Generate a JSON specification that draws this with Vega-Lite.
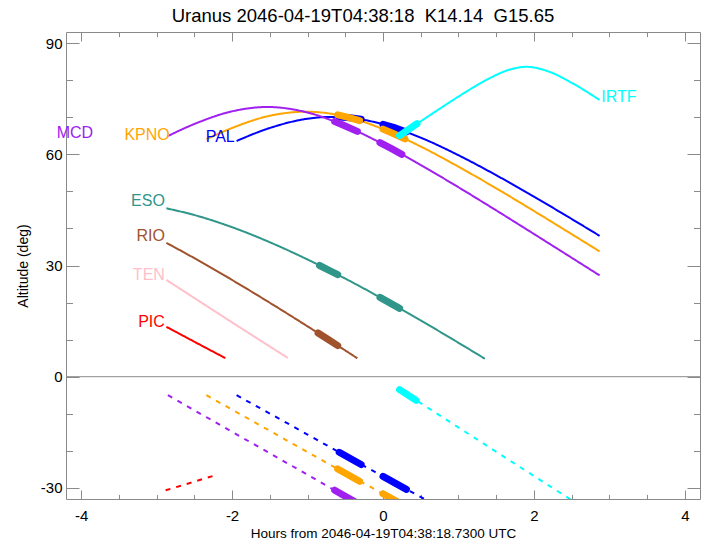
{
  "$schema": "https://vega.github.io/schema/vega-lite/v6.json",
  "width": 634,
  "height": 467,
  "autosize": {"type": "none"},
  "padding": {"left": 66, "top": 32, "right": 8, "bottom": 45},
  "background": "white",
  "title": {"text": "Uranus 2046-04-19T04:38:18\u00a0\u00a0K14.14\u00a0\u00a0G15.65", "fontSize": 18.5, "font": "Liberation Sans", "fontWeight": "normal", "color": "black", "anchor": "middle", "offset": 6, "dx": -20},
  "config": {
    "view": {"stroke": "#8a8a8a", "strokeWidth": 1},
    "axis": {"domain": false, "grid": false, "labelFont": "Liberation Sans", "labelFontSize": 15, "labelColor": "black", "tickColor": "#8a8a8a", "tickWidth": 1, "titleFont": "Liberation Sans", "titleFontSize": 14, "titleFontWeight": "normal", "titleColor": "black"}
  },
  "datasets": {
    "curves": [
      {"obs": "PAL", "kind": "alt", "x": -1.94, "y": 63.6},
      {"obs": "PAL", "kind": "alt", "x": -1.5, "y": 67.1},
      {"obs": "PAL", "kind": "alt", "x": -1.0, "y": 69.6},
      {"obs": "PAL", "kind": "alt", "x": -0.67, "y": 70.1},
      {"obs": "PAL", "kind": "alt", "x": -0.3, "y": 69.47},
      {"obs": "PAL", "kind": "alt", "x": 0.0, "y": 68.1},
      {"obs": "PAL", "kind": "alt", "x": 0.5, "y": 64.49},
      {"obs": "PAL", "kind": "alt", "x": 1.0, "y": 59.75},
      {"obs": "PAL", "kind": "alt", "x": 1.5, "y": 54.36},
      {"obs": "PAL", "kind": "alt", "x": 2.0, "y": 48.57},
      {"obs": "PAL", "kind": "alt", "x": 2.5, "y": 42.55},
      {"obs": "PAL", "kind": "alt", "x": 2.87, "y": 38.0},
      {"obs": "KPNO", "kind": "alt", "x": -2.34, "y": 64.08},
      {"obs": "KPNO", "kind": "alt", "x": -2.0, "y": 67.1},
      {"obs": "KPNO", "kind": "alt", "x": -1.5, "y": 70.4},
      {"obs": "KPNO", "kind": "alt", "x": -1.02, "y": 71.5},
      {"obs": "KPNO", "kind": "alt", "x": -0.5, "y": 70.2},
      {"obs": "KPNO", "kind": "alt", "x": 0.0, "y": 66.8},
      {"obs": "KPNO", "kind": "alt", "x": 0.5, "y": 62.1},
      {"obs": "KPNO", "kind": "alt", "x": 1.0, "y": 56.66},
      {"obs": "KPNO", "kind": "alt", "x": 1.5, "y": 50.82},
      {"obs": "KPNO", "kind": "alt", "x": 2.0, "y": 44.71},
      {"obs": "KPNO", "kind": "alt", "x": 2.5, "y": 38.46},
      {"obs": "KPNO", "kind": "alt", "x": 2.87, "y": 33.8},
      {"obs": "MCD", "kind": "alt", "x": -2.85, "y": 64.93},
      {"obs": "MCD", "kind": "alt", "x": -2.5, "y": 68.17},
      {"obs": "MCD", "kind": "alt", "x": -2.0, "y": 71.59},
      {"obs": "MCD", "kind": "alt", "x": -1.53, "y": 72.77},
      {"obs": "MCD", "kind": "alt", "x": -1.0, "y": 71.28},
      {"obs": "MCD", "kind": "alt", "x": -0.5, "y": 67.65},
      {"obs": "MCD", "kind": "alt", "x": 0.0, "y": 62.74},
      {"obs": "MCD", "kind": "alt", "x": 0.5, "y": 57.1},
      {"obs": "MCD", "kind": "alt", "x": 1.0, "y": 51.11},
      {"obs": "MCD", "kind": "alt", "x": 1.5, "y": 44.87},
      {"obs": "MCD", "kind": "alt", "x": 2.0, "y": 38.5},
      {"obs": "MCD", "kind": "alt", "x": 2.5, "y": 32.09},
      {"obs": "MCD", "kind": "alt", "x": 2.87, "y": 27.32},
      {"obs": "ESO", "kind": "alt", "x": -2.87, "y": 45.43},
      {"obs": "ESO", "kind": "alt", "x": -2.5, "y": 43.62},
      {"obs": "ESO", "kind": "alt", "x": -2.0, "y": 40.34},
      {"obs": "ESO", "kind": "alt", "x": -1.5, "y": 36.28},
      {"obs": "ESO", "kind": "alt", "x": -1.0, "y": 31.62},
      {"obs": "ESO", "kind": "alt", "x": -0.5, "y": 26.47},
      {"obs": "ESO", "kind": "alt", "x": 0.0, "y": 20.96},
      {"obs": "ESO", "kind": "alt", "x": 0.5, "y": 15.17},
      {"obs": "ESO", "kind": "alt", "x": 1.0, "y": 9.15},
      {"obs": "ESO", "kind": "alt", "x": 1.35, "y": 4.84},
      {"obs": "RIO", "kind": "alt", "x": -2.87, "y": 36.11},
      {"obs": "RIO", "kind": "alt", "x": -2.5, "y": 31.99},
      {"obs": "RIO", "kind": "alt", "x": -2.0, "y": 26.1},
      {"obs": "RIO", "kind": "alt", "x": -1.5, "y": 19.95},
      {"obs": "RIO", "kind": "alt", "x": -1.0, "y": 13.59},
      {"obs": "RIO", "kind": "alt", "x": -0.5, "y": 7.08},
      {"obs": "RIO", "kind": "alt", "x": -0.34, "y": 4.97},
      {"obs": "TEN", "kind": "alt", "x": -2.87, "y": 26.11},
      {"obs": "TEN", "kind": "alt", "x": -2.5, "y": 21.23},
      {"obs": "TEN", "kind": "alt", "x": -2.0, "y": 14.66},
      {"obs": "TEN", "kind": "alt", "x": -1.5, "y": 8.15},
      {"obs": "TEN", "kind": "alt", "x": -1.26, "y": 5.04},
      {"obs": "PIC", "kind": "alt", "x": -2.87, "y": 13.46},
      {"obs": "PIC", "kind": "alt", "x": -2.5, "y": 9.44},
      {"obs": "PIC", "kind": "alt", "x": -2.3, "y": 7.28},
      {"obs": "PIC", "kind": "alt", "x": -2.09, "y": 5.03},
      {"obs": "IRTF", "kind": "alt", "x": 0.22, "y": 65.05},
      {"obs": "IRTF", "kind": "alt", "x": 0.5, "y": 68.9},
      {"obs": "IRTF", "kind": "alt", "x": 0.8, "y": 72.95},
      {"obs": "IRTF", "kind": "alt", "x": 1.1, "y": 76.85},
      {"obs": "IRTF", "kind": "alt", "x": 1.4, "y": 80.4},
      {"obs": "IRTF", "kind": "alt", "x": 1.7, "y": 82.98},
      {"obs": "IRTF", "kind": "alt", "x": 1.9, "y": 83.6},
      {"obs": "IRTF", "kind": "alt", "x": 2.2, "y": 82.3},
      {"obs": "IRTF", "kind": "alt", "x": 2.5, "y": 79.28},
      {"obs": "IRTF", "kind": "alt", "x": 2.87, "y": 74.66},
      {"obs": "PAL", "kind": "sun", "x": -1.94, "y": -5.0},
      {"obs": "PAL", "kind": "sun", "x": -1.0, "y": -15.6},
      {"obs": "PAL", "kind": "sun", "x": -0.58, "y": -20.4},
      {"obs": "PAL", "kind": "sun", "x": 0.0, "y": -26.9},
      {"obs": "PAL", "kind": "sun", "x": 0.62, "y": -33.8},
      {"obs": "PAL", "kind": "sun", "x": 0.8, "y": -35.8},
      {"obs": "KPNO", "kind": "sun", "x": -2.34, "y": -5.0},
      {"obs": "KPNO", "kind": "sun", "x": -1.5, "y": -14.6},
      {"obs": "KPNO", "kind": "sun", "x": -0.6, "y": -24.9},
      {"obs": "KPNO", "kind": "sun", "x": 0.0, "y": -31.6},
      {"obs": "KPNO", "kind": "sun", "x": 0.4, "y": -36.1},
      {"obs": "MCD", "kind": "sun", "x": -2.85, "y": -5.0},
      {"obs": "MCD", "kind": "sun", "x": -2.0, "y": -14.86},
      {"obs": "MCD", "kind": "sun", "x": -1.0, "y": -26.46},
      {"obs": "MCD", "kind": "sun", "x": -0.64, "y": -30.64},
      {"obs": "MCD", "kind": "sun", "x": -0.2, "y": -35.74},
      {"obs": "PIC", "kind": "sun", "x": -2.88, "y": -30.66},
      {"obs": "PIC", "kind": "sun", "x": -2.19, "y": -26.4},
      {"obs": "IRTF", "kind": "sun", "x": 0.22, "y": -3.5},
      {"obs": "IRTF", "kind": "sun", "x": 1.0, "y": -13.7},
      {"obs": "IRTF", "kind": "sun", "x": 2.0, "y": -26.8},
      {"obs": "IRTF", "kind": "sun", "x": 2.6, "y": -34.6}
    ],
    "thick": [
      {"obs": "PAL", "seg": "PAL-a", "x": -0.58, "y": 70.07},
      {"obs": "PAL", "seg": "PAL-a", "x": -0.44, "y": 69.85},
      {"obs": "PAL", "seg": "PAL-a", "x": -0.29, "y": 69.44},
      {"obs": "PAL", "seg": "PAL-b", "x": 0.0, "y": 68.1},
      {"obs": "PAL", "seg": "PAL-b", "x": 0.15, "y": 67.18},
      {"obs": "PAL", "seg": "PAL-b", "x": 0.31, "y": 66.03},
      {"obs": "KPNO", "seg": "KPNO-a", "x": -0.6, "y": 70.63},
      {"obs": "KPNO", "seg": "KPNO-a", "x": -0.45, "y": 69.9},
      {"obs": "KPNO", "seg": "KPNO-a", "x": -0.31, "y": 69.09},
      {"obs": "KPNO", "seg": "KPNO-b", "x": 0.0, "y": 66.8},
      {"obs": "KPNO", "seg": "KPNO-b", "x": 0.15, "y": 65.47},
      {"obs": "KPNO", "seg": "KPNO-b", "x": 0.29, "y": 64.17},
      {"obs": "MCD", "seg": "MCD-a", "x": -0.64, "y": 68.83},
      {"obs": "MCD", "seg": "MCD-a", "x": -0.5, "y": 67.65},
      {"obs": "MCD", "seg": "MCD-a", "x": -0.34, "y": 66.19},
      {"obs": "MCD", "seg": "MCD-b", "x": -0.04, "y": 63.17},
      {"obs": "MCD", "seg": "MCD-b", "x": 0.1, "y": 61.66},
      {"obs": "MCD", "seg": "MCD-b", "x": 0.25, "y": 59.98},
      {"obs": "ESO", "seg": "ESO-a", "x": -0.84, "y": 30.0},
      {"obs": "ESO", "seg": "ESO-a", "x": -0.72, "y": 28.78},
      {"obs": "ESO", "seg": "ESO-a", "x": -0.6, "y": 27.54},
      {"obs": "ESO", "seg": "ESO-b", "x": -0.04, "y": 21.41},
      {"obs": "ESO", "seg": "ESO-b", "x": 0.09, "y": 19.93},
      {"obs": "ESO", "seg": "ESO-b", "x": 0.22, "y": 18.44},
      {"obs": "RIO", "seg": "RIO-a", "x": -0.86, "y": 11.78},
      {"obs": "RIO", "seg": "RIO-a", "x": -0.73, "y": 10.09},
      {"obs": "RIO", "seg": "RIO-a", "x": -0.6, "y": 8.39},
      {"obs": "IRTF", "seg": "IRTF-a", "x": 0.22, "y": 65.05},
      {"obs": "IRTF", "seg": "IRTF-a", "x": 0.33, "y": 66.6},
      {"obs": "IRTF", "seg": "IRTF-a", "x": 0.45, "y": 68.24},
      {"obs": "PAL", "seg": "PALs-a", "x": -0.58, "y": -20.4},
      {"obs": "PAL", "seg": "PALs-a", "x": -0.29, "y": -23.7},
      {"obs": "PAL", "seg": "PALs-b", "x": 0.0, "y": -26.9},
      {"obs": "PAL", "seg": "PALs-b", "x": 0.31, "y": -30.4},
      {"obs": "KPNO", "seg": "KPNOs-a", "x": -0.6, "y": -24.9},
      {"obs": "KPNO", "seg": "KPNOs-a", "x": -0.31, "y": -28.2},
      {"obs": "KPNO", "seg": "KPNOs-b", "x": 0.0, "y": -31.6},
      {"obs": "KPNO", "seg": "KPNOs-b", "x": 0.24, "y": -34.3},
      {"obs": "MCD", "seg": "MCDs-a", "x": -0.64, "y": -30.64},
      {"obs": "MCD", "seg": "MCDs-a", "x": -0.35, "y": -34.0},
      {"obs": "IRTF", "seg": "IRTFs-a", "x": 0.22, "y": -3.5},
      {"obs": "IRTF", "seg": "IRTFs-a", "x": 0.44, "y": -6.4}
    ],
    "labels": [
      {"obs": "MCD", "label": "MCD", "side": "r", "x": -3.84, "y": 64.37},
      {"obs": "KPNO", "label": "KPNO", "side": "r", "x": -2.825, "y": 63.92},
      {"obs": "PAL", "label": "PAL", "side": "r", "x": -1.964, "y": 63.19},
      {"obs": "ESO", "label": "ESO", "side": "r", "x": -2.89, "y": 45.93},
      {"obs": "RIO", "label": "RIO", "side": "r", "x": -2.89, "y": 36.49},
      {"obs": "TEN", "label": "TEN", "side": "r", "x": -2.89, "y": 26.16},
      {"obs": "PIC", "label": "PIC", "side": "r", "x": -2.89, "y": 13.4},
      {"obs": "IRTF", "label": "IRTF", "side": "l", "x": 2.893, "y": 74.24}
    ]
  },
  "resolve": {"axis": {"x": "independent", "y": "independent"}},
  "layer": [
    {
      "data": {"values": [{"v": 0}]},
      "mark": {"type": "rule", "color": "#8a8a8a", "strokeWidth": 1},
      "encoding": {
        "y": {"field": "v", "type": "quantitative", "scale": {"domain": [-33, 93], "nice": false, "zero": false}, "axis": null}
      }
    },
    {
      "data": {"name": "curves"},
      "mark": {"type": "line", "strokeWidth": 2, "clip": true, "interpolate": "monotone"},
      "encoding": {
        "x": {"field": "x", "type": "quantitative", "scale": {"domain": [-4.2, 4.2], "nice": false, "zero": false},
          "axis": {"orient": "bottom", "values": [-4, -2, 0, 2, 4], "tickSize": -9, "labelPadding": 18, "labelExpr": "datum.value + ''", "title": "Hours from 2046-04-19T04:38:18.7300 UTC", "titleFontSize": 13.5, "titlePadding": 3}},
        "y": {"field": "y", "type": "quantitative", "scale": {"domain": [-33, 93], "nice": false, "zero": false},
          "axis": {"orient": "left", "values": [-30, 0, 30, 60, 90], "tickSize": -13, "labelPadding": 17, "labelExpr": "datum.value + ''", "title": "Altitude (deg)", "titlePadding": 10}},
        "color": {"field": "obs", "type": "nominal", "scale": {"domain": ["MCD", "KPNO", "PAL", "IRTF", "ESO", "RIO", "TEN", "PIC"], "range": ["#A020F0", "#FFA500", "#0000FF", "#00FFFF", "#30968A", "#A0522D", "#FFC0CB", "#FF0000"]}, "legend": null},
        "strokeDash": {"field": "kind", "type": "nominal", "scale": {"domain": ["alt", "sun"], "range": [[1, 0], [5, 6]]}, "legend": null}
      }
    },
    {
      "data": {"name": "thick"},
      "mark": {"type": "line", "strokeWidth": 7, "strokeCap": "round", "clip": true},
      "encoding": {
        "x": {"field": "x", "type": "quantitative", "scale": {"domain": [-4.2, 4.2], "nice": false, "zero": false},
          "axis": {"orient": "bottom", "values": [-4, -3.5, -3, -2.5, -2, -1.5, -1, -0.5, 0, 0.5, 1, 1.5, 2, 2.5, 3, 3.5, 4], "tickSize": -4.6, "labels": false, "title": null}},
        "y": {"field": "y", "type": "quantitative", "scale": {"domain": [-33, 93], "nice": false, "zero": false},
          "axis": {"orient": "left", "values": [-30, -20, -10, 0, 10, 20, 30, 40, 50, 60, 70, 80, 90], "tickSize": -6.5, "labels": false, "title": null}},
        "color": {"field": "obs", "type": "nominal", "scale": {"domain": ["MCD", "KPNO", "PAL", "IRTF", "ESO", "RIO", "TEN", "PIC"], "range": ["#A020F0", "#FFA500", "#0000FF", "#00FFFF", "#30968A", "#A0522D", "#FFC0CB", "#FF0000"]}, "legend": null},
        "detail": {"field": "seg", "type": "nominal"}
      }
    },
    {
      "data": {"name": "labels"},
      "transform": [{"filter": "datum.side === 'r'"}],
      "mark": {"type": "text", "align": "right", "baseline": "alphabetic", "font": "Liberation Sans", "fontSize": 16},
      "encoding": {
        "x": {"field": "x", "type": "quantitative", "scale": {"domain": [-4.2, 4.2], "nice": false, "zero": false},
          "axis": {"orient": "top", "values": [-4, -2, 0, 2, 4], "tickSize": -9, "labels": false, "title": null}},
        "y": {"field": "y", "type": "quantitative", "scale": {"domain": [-33, 93], "nice": false, "zero": false},
          "axis": {"orient": "right", "values": [-30, 0, 30, 60, 90], "tickSize": -13, "labels": false, "title": null}},
        "text": {"field": "label", "type": "nominal"},
        "color": {"field": "obs", "type": "nominal", "scale": {"domain": ["MCD", "KPNO", "PAL", "IRTF", "ESO", "RIO", "TEN", "PIC"], "range": ["#A020F0", "#FFA500", "#0000FF", "#00FFFF", "#30968A", "#A0522D", "#FFC0CB", "#FF0000"]}, "legend": null}
      }
    },
    {
      "data": {"name": "labels"},
      "transform": [{"filter": "datum.side === 'l'"}],
      "mark": {"type": "text", "align": "left", "baseline": "alphabetic", "font": "Liberation Sans", "fontSize": 16},
      "encoding": {
        "x": {"field": "x", "type": "quantitative", "scale": {"domain": [-4.2, 4.2], "nice": false, "zero": false},
          "axis": {"orient": "top", "values": [-4, -3.5, -3, -2.5, -2, -1.5, -1, -0.5, 0, 0.5, 1, 1.5, 2, 2.5, 3, 3.5, 4], "tickSize": -4.6, "labels": false, "title": null}},
        "y": {"field": "y", "type": "quantitative", "scale": {"domain": [-33, 93], "nice": false, "zero": false},
          "axis": {"orient": "right", "values": [-30, -20, -10, 0, 10, 20, 30, 40, 50, 60, 70, 80, 90], "tickSize": -6.5, "labels": false, "title": null}},
        "text": {"field": "label", "type": "nominal"},
        "color": {"field": "obs", "type": "nominal", "scale": {"domain": ["MCD", "KPNO", "PAL", "IRTF", "ESO", "RIO", "TEN", "PIC"], "range": ["#A020F0", "#FFA500", "#0000FF", "#00FFFF", "#30968A", "#A0522D", "#FFC0CB", "#FF0000"]}, "legend": null}
      }
    }
  ]
}
